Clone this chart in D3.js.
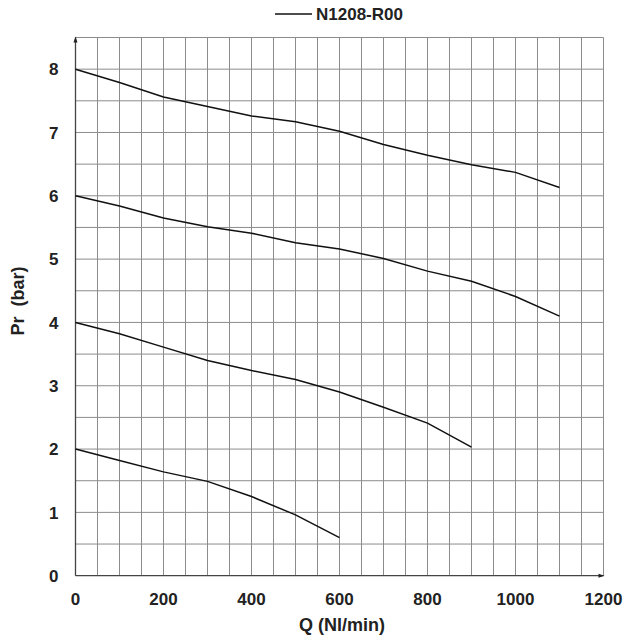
<!DOCTYPE html>
<html>
<head>
<meta charset="utf-8">
<script src="https://cdn.jsdelivr.net/npm/d3@7"></script>
<style>
	body { margin: 0; background: #fff; }
	text { font-family: "Liberation Sans", Arial, sans-serif; font-weight: bold; fill: #222; }
</style>
</head>
<body>
<div id="vis"></div>
<script>
// flow (Nl/min) sampled every 100
var flowQ = [0, 100, 200, 300, 400, 500, 600, 700, 800, 900, 1000, 1100];

// outlet pressure curves for each set pressure (bar)
var curve8 = [8.0, 7.79, 7.56, 7.41, 7.26, 7.17, 7.02, 6.81, 6.64, 6.49, 6.37, 6.13];
var curve6 = [6.0, 5.84, 5.65, 5.51, 5.41, 5.26, 5.16, 5.01, 4.81, 4.65, 4.41, 4.10];
var curve4 = [4.0, 3.82, 3.61, 3.40, 3.24, 3.10, 2.90, 2.66, 2.41, 2.03];
var curve2 = [2.0, 1.82, 1.64, 1.49, 1.25, 0.96, 0.60];

var xTicks = [0, 200, 400, 600, 800, 1000, 1200];
var yTicks = [0, 1, 2, 3, 4, 5, 6, 7, 8];
var seriesName = 'N1208-R00';

var width = 625, height = 641;
var margin = {top: 37.5, right: 21.5, bottom: 65.3, left: 75.5};

var svg = d3.select('#vis')
	.append('svg')
	.attr('width', width)
	.attr('height', height);

var x = d3.scaleLinear()
	.domain([0, 1200])
	.range([margin.left, width - margin.right]);

var y = d3.scaleLinear()
	.domain([0, 8.5])
	.range([height - margin.bottom, margin.top]);

// grid: every 50 Nl/min and every 0.5 bar
var grid = svg.append('g')
	.attr('stroke', '#8c8c8c')
	.attr('stroke-width', 1);

grid.selectAll('.vline')
	.data(d3.range(50, 1201, 50))
	.enter()
	.append('line')
	.attr('x1', function(d) { return x(d); })
	.attr('x2', function(d) { return x(d); })
	.attr('y1', y(0))
	.attr('y2', y(8.5));

grid.selectAll('.hline')
	.data(d3.range(0.5, 8.51, 0.5))
	.enter()
	.append('line')
	.attr('x1', x(0))
	.attr('x2', x(1200))
	.attr('y1', function(d) { return y(d); })
	.attr('y2', function(d) { return y(d); });

// axes with small arrow heads
svg.append('line')
	.attr('x1', x(0)).attr('x2', x(1200))
	.attr('y1', y(0)).attr('y2', y(0))
	.attr('stroke', '#444').attr('stroke-width', 1.3);
svg.append('line')
	.attr('x1', x(0)).attr('x2', x(0))
	.attr('y1', y(0)).attr('y2', y(8.5))
	.attr('stroke', '#444').attr('stroke-width', 1.3);

svg.append('path')
	.attr('d', 'M' + (x(1200) + 1) + ',' + y(0) + 'l-6,-2l0,4z')
	.attr('fill', '#222');
svg.append('path')
	.attr('d', 'M' + x(0) + ',' + (y(8.5) - 1) + 'l-2,6l4,0z')
	.attr('fill', '#222');

// tick labels
svg.append('g')
	.selectAll('text')
	.data(xTicks)
	.enter()
	.append('text')
	.attr('x', function(d) { return x(d); })
	.attr('y', 604.5)
	.attr('text-anchor', 'middle')
	.style('font-size', '17px')
	.text(function(d) { return d; });

svg.append('g')
	.selectAll('text')
	.data(yTicks)
	.enter()
	.append('text')
	.attr('x', 58.5)
	.attr('y', function(d) { return y(d); })
	.attr('dy', '0.36em')
	.attr('text-anchor', 'end')
	.style('font-size', '17px')
	.text(function(d) { return d; });

// axis titles
svg.append('text')
	.attr('x', 342)
	.attr('y', 631)
	.attr('text-anchor', 'middle')
	.style('font-size', '18px')
	.text('Q (Nl/min)');

svg.append('text')
	.attr('transform', 'translate(24,301) rotate(-90)')
	.attr('text-anchor', 'middle')
	.style('font-size', '18px')
	.style('white-space', 'pre')
	.text('Pr  (bar)');

// curves
var line = d3.line()
	.x(function(d, i) { return x(flowQ[i]); })
	.y(function(d) { return y(d); });

svg.append('g')
	.selectAll('path')
	.data([curve8, curve6, curve4, curve2])
	.enter()
	.append('path')
	.attr('d', line)
	.attr('fill', 'none')
	.attr('stroke', '#111')
	.attr('stroke-width', 1.5);

// legend
svg.append('line')
	.attr('x1', 275).attr('x2', 312)
	.attr('y1', 14).attr('y2', 14)
	.attr('stroke', '#111').attr('stroke-width', 1.5);
svg.append('text')
	.attr('x', 316)
	.attr('y', 20)
	.style('font-size', '17px')
	.text(seriesName);
</script>
</body>
</html>
